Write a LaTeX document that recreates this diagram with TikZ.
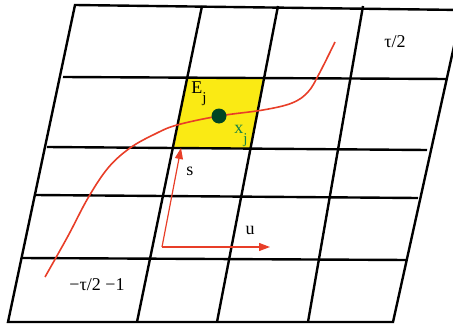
\documentclass[tikz,border=0pt]{standalone}
\usepackage{fontspec}
\setmainfont{Liberation Serif}
\usepackage{tikz}
\usetikzlibrary{arrows.meta,positioning,calc}
\definecolor{cellyellow}{RGB}{250,234,20}
\definecolor{pathred}{RGB}{232,62,40}
\definecolor{dotgreen}{RGB}{0,70,35}
\definecolor{labgreen}{RGB}{20,130,70}

\begin{document}
\begin{tikzpicture}[x=1pt,y=-1pt,>={Triangle[length=11pt,width=8pt]},font=\fontsize{18}{20}\selectfont,line width=2.4pt]
\useasboundingbox (0,0) rectangle (453,324);
\clip (0,0) rectangle (453,324);
% highlighted cell E_j
\fill[cellyellow] (188,77)--(263,78)--(250,149)--(174,148)--cycle;
% grid
\draw (75,5)--(462,10)--(393,322)--(8,322)--cycle;
\foreach \xa/\ya/\xb/\yb in {63/77/447/79,47/147/427/150,35/195/418/198,22/258/407/260}{
 \draw (\xa,\ya)--(\xb,\yb);
}
\foreach \xa/\xb in {202/137,278/217,363/308}{
 \draw (\xa,6)--(\xb,322);
}
% path through the cell
\draw[pathred,line width=1.6pt] plot[smooth,tension=.6] coordinates {(45,277) (68,236) (88,198) (108,168) (130,148) (155,134) (177,125) (219,116) (263,110) (292,103) (308,92) (319,74) (335,42)};
\fill[dotgreen] (219,116) circle (7.5);
% local axes
\coordinate (orig) at (162,247);
\coordinate (sEnd) at (181,148);
\coordinate (uEnd) at (270,247);
\draw[pathred,line width=1.2pt,->] (orig)--(sEnd);
\draw[pathred,line width=1.2pt,->] (orig)--(uEnd);
% labels
\node (lblE) at (199,94) {E\raisebox{-1.1ex}{\fontsize{15}{17}\selectfont j}};
\node[labgreen] (lblx) at (241,136) {x\raisebox{-1.1ex}{\fontsize{15}{17}\selectfont j}};
\node (lbls) at (190,171) {s};
\node (lblu) at (250,230) {u};
\node (lbltop) at (395,42) {τ/2};
\node (lblbot) at (97,285) {−τ/2 −1};
\end{tikzpicture}
\end{document}
